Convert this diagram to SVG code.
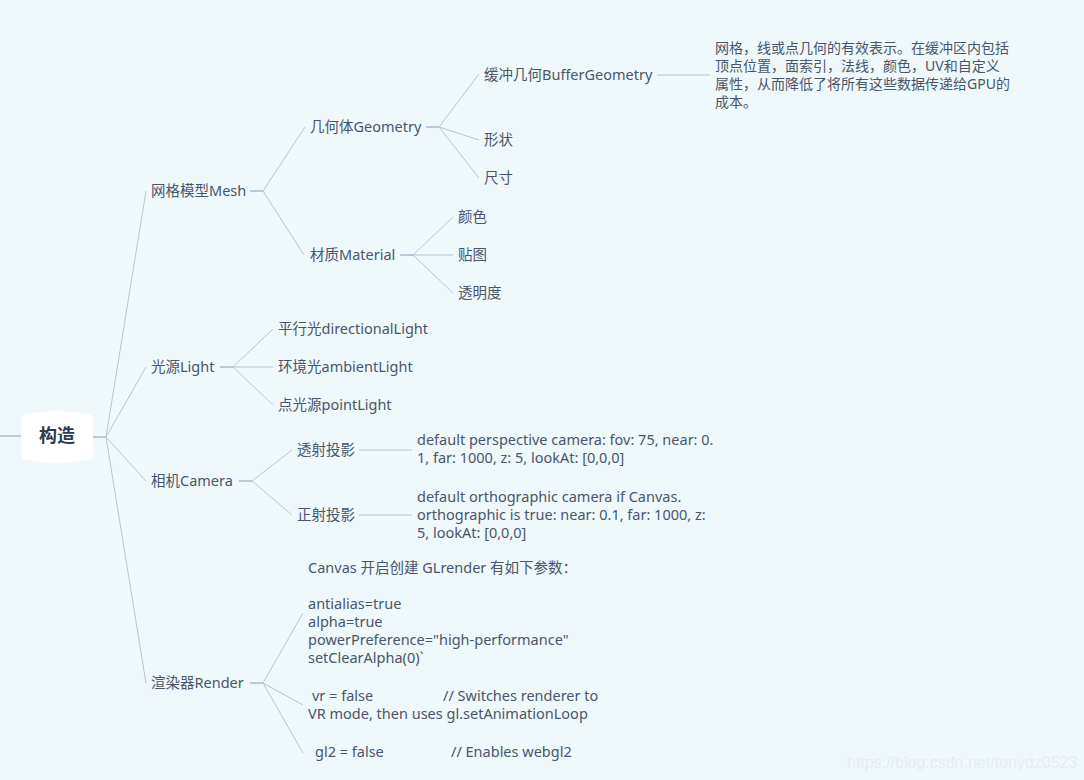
<svg xmlns="http://www.w3.org/2000/svg" width="1084" height="780" viewBox="0 0 1084 780">
<style>
.t{font-family:"Noto Sans","Noto Sans CJK SC",sans-serif;font-size:14.5px;fill:#4a556b}
.n{font-size:14px}
.r{font-family:"Noto Sans","Noto Sans CJK SC",sans-serif;font-size:18px;font-weight:bold;fill:#2f3a50}
.c{stroke:#b9c3d3;stroke-width:1;fill:none}
.s{stroke:#adb9cb;stroke-width:1.5;fill:none}
.w{font-family:"Liberation Sans",Arial,sans-serif;font-size:16px;fill:#e6ecf0}
</style>
<rect width="1084" height="780" fill="#eff8fb"/>
<g id="connectors">
<path class="s" d="M0 436H21M93 437H106"/>
<path class="c" d="M106 437L146 191M106 437L146 367M106 437L146 481M106 437L146 683"/>
<path class="s" d="M250 191H263"/>
<path class="c" d="M263 191L305 127M263 191L304 255"/>
<path class="s" d="M426 127H439"/>
<path class="c" d="M439 127L479 74M439 127L479 140M439 127L479 178"/>
<path class="c" d="M657 75H710"/>
<path class="s" d="M400 255H413"/>
<path class="c" d="M413 255L453 217M413 255L453 255M413 255L453 293"/>
<path class="s" d="M220 367H233"/>
<path class="c" d="M233 367L273 329M233 367L273 367M233 367L273 405"/>
<path class="s" d="M239 481H252"/>
<path class="c" d="M252 481L292 450M252 481L292 515"/>
<path class="c" d="M359 450H412M359 515H412"/>
<path class="s" d="M250 683H263"/>
<path class="c" d="M263 683L303 613M263 683L303 705M263 683L303 753"/>
</g>
<g id="root">
<path d="M21 419Q21 415 26 414Q57 408 88 414Q93 415 93 419L93 455Q93 459 88 460Q57 466 26 460Q21 459 21 455Z" fill="#ffffff"/>
<text class="r" x="57" y="442" text-anchor="middle">构造</text>
</g>
<g id="mesh"><text class="t" x="151" y="196">网格模型Mesh</text></g>
<g id="geometry"><text class="t" x="310" y="132">几何体Geometry</text></g>
<g id="buffergeometry"><text class="t" x="484" y="80">缓冲几何BufferGeometry</text></g>
<g id="buffergeometry-note"><text class="t n" x="715" y="53"><tspan x="715">网格，线或点几何的有效表示。在缓冲区内包括</tspan><tspan x="715" dy="18">顶点位置，面索引，法线，颜色，UV和自定义</tspan><tspan x="715" dy="18">属性，从而降低了将所有这些数据传递给GPU的</tspan><tspan x="715" dy="18">成本。</tspan></text></g>
<g id="shape"><text class="t" x="484" y="145">形状</text></g>
<g id="size"><text class="t" x="484" y="183">尺寸</text></g>
<g id="material"><text class="t" x="310" y="260">材质Material</text></g>
<g id="color"><text class="t" x="458" y="222">颜色</text></g>
<g id="texture"><text class="t" x="458" y="260">贴图</text></g>
<g id="opacity"><text class="t" x="458" y="298">透明度</text></g>
<g id="light"><text class="t" x="151" y="372">光源Light</text></g>
<g id="directional"><text class="t" x="278" y="334">平行光directionalLight</text></g>
<g id="ambient"><text class="t" x="278" y="372">环境光ambientLight</text></g>
<g id="point"><text class="t" x="278" y="410">点光源pointLight</text></g>
<g id="camera"><text class="t" x="151" y="486">相机Camera</text></g>
<g id="perspective"><text class="t" x="297" y="455">透射投影</text></g>
<g id="perspective-note"><text class="t" x="417" y="445"><tspan x="417">default perspective camera: fov: 75, near: 0.</tspan><tspan x="417" dy="18">1, far: 1000, z: 5, lookAt: [0,0,0]</tspan></text></g>
<g id="orthographic"><text class="t" x="297" y="520">正射投影</text></g>
<g id="orthographic-note"><text class="t" x="417" y="502"><tspan x="417">default orthographic camera if Canvas.</tspan><tspan x="417" dy="18">orthographic is true: near: 0.1, far: 1000, z:</tspan><tspan x="417" dy="18">5, lookAt: [0,0,0]</tspan></text></g>
<g id="render"><text class="t" x="151" y="688">渲染器Render</text></g>
<g id="render-params"><text class="t" x="308" y="573"><tspan x="308">Canvas 开启创建 GLrender 有如下参数：</tspan><tspan x="308" dy="36">antialias=true</tspan><tspan x="308" dy="18">alpha=true</tspan><tspan x="308" dy="18">powerPreference="high-performance"</tspan><tspan x="308" dy="18">setClearAlpha(0)`</tspan></text></g>
<g id="render-vr"><text class="t" x="312" y="701"><tspan x="312">vr = false</tspan><tspan x="443">// Switches renderer to</tspan><tspan x="308" dy="18">VR mode, then uses gl.setAnimationLoop</tspan></text></g>
<g id="render-gl2"><text class="t" x="315" y="757"><tspan x="315">gl2 = false</tspan><tspan x="451">// Enables webgl2</tspan></text></g>
<text class="w" x="847" y="768">https://blog.csdn.net/tonydz0523</text>
</svg>
